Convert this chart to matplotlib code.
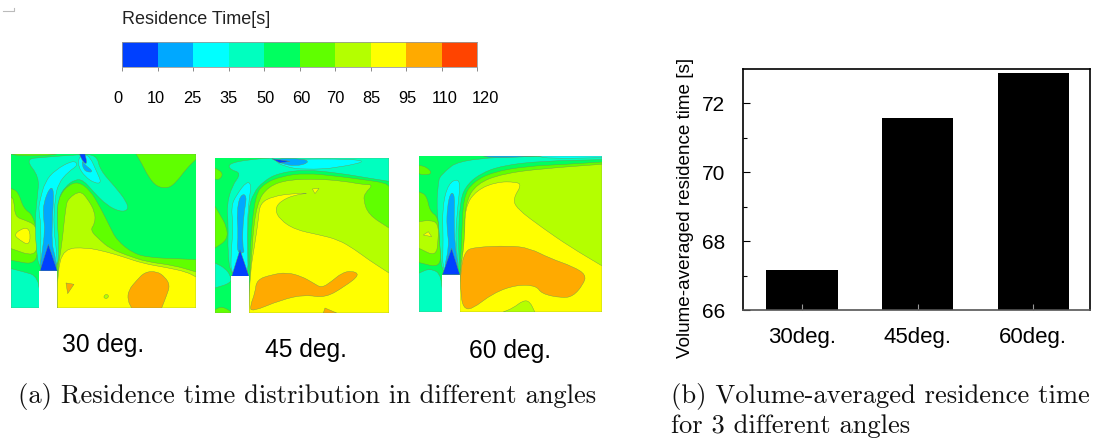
import matplotlib
matplotlib.use("Agg")
import matplotlib.pyplot as plt
from matplotlib.patches import PathPatch, Rectangle
from matplotlib.path import Path

W, H = 1097, 441

# colour bands of the residence time legend
band_edges = [0, 10, 25, 35, 50, 60, 70, 85, 95, 110, 120]
band_colors = ["#0040ff", "#00a8ff", "#00ffff", "#00ffbf", "#00ff60",
               "#60ff00", "#b4ff00", "#ffff00", "#ffaa00", "#ff4400"]
label_shift = [-0.11, -0.05, -0.03, 0.0, 0.03, 0.06, 0.0, 0.02, 0.05, 0.1, 0.25]

# bar chart values
angles = ["30deg.", "45deg.", "60deg."]
avg_time = [67.15, 71.57, 72.87]

# contour regions, painted in order, as (band index, outline) in section coordinates
section_30 = [
    (5, [(408, 42), (588, 42), (588, 58), (560, 85), (530, 125), (505, 145), (470, 140), (445, 110), (425, 70)]),
    (5, [(33, 42), (170, 42), (150, 46), (60, 48)]),
    (5, [(170, 200), (180, 165), (205, 135), (235, 125), (270, 150), (300, 200), (330, 260), (350, 300), (400, 340), (450, 352), (520, 355), (588, 358), (588, 503), (172, 503)]),
    (6, [(197, 200), (205, 175), (240, 152), (262, 175), (285, 215), (285, 250), (270, 270), (300, 300), (330, 325), (380, 345), (440, 365), (520, 375), (588, 395), (588, 503), (172, 503), (172, 390), (185, 320)]),
    (7, [(190, 325), (260, 322), (320, 335), (370, 350), (430, 370), (500, 382), (560, 395), (588, 410), (588, 503), (172, 503), (172, 400)]),
    (8, [(385, 450), (410, 420), (435, 395), (470, 393), (495, 410), (510, 435), (500, 465), (485, 503), (395, 503), (383, 480)]),
    (8, [(198, 428), (222, 432), (203, 460)]),
    (6, [(311, 468), (318, 461), (327, 466), (322, 475), (313, 474)]),
    (3, [(33, 385), (60, 392), (118, 408), (118, 503), (33, 503)]),
    (5, [(33, 145), (55, 155), (70, 205), (100, 225), (112, 290), (112, 375), (33, 360)]),
    (6, [(33, 170), (42, 180), (45, 230), (75, 240), (108, 255), (115, 300), (105, 350), (33, 325)]),
    (7, [(42, 285), (60, 268), (85, 262), (92, 290), (85, 315), (60, 300)]),
    (3, [(75, 57), (130, 52), (235, 44), (290, 44), (300, 90), (345, 140), (380, 185), (385, 210), (360, 215), (320, 195), (280, 155), (250, 120), (225, 118), (195, 140), (175, 175), (170, 230), (178, 320), (172, 392), (118, 392), (108, 320), (105, 240), (112, 170), (118, 110)]),
    (2, [(120, 180), (135, 125), (165, 90), (220, 60), (235, 75), (205, 95), (175, 130), (165, 175), (160, 260), (170, 330), (172, 392), (118, 392), (125, 260), (115, 210)]),
    (2, [(235, 55), (250, 42), (270, 50), (290, 95), (305, 128), (285, 130), (255, 110), (235, 80)]),
    (1, [(130, 190), (150, 140), (162, 150), (158, 220), (155, 310), (165, 345), (172, 392), (118, 392), (125, 345), (135, 270), (130, 230)]),
    (1, [(245, 60), (255, 75), (278, 92), (270, 98), (250, 90)]),
    (0, [(120, 392), (145, 312), (172, 392)]),
    (0, [(238, 42), (255, 42), (262, 72), (250, 68)]),
]
section_45 = [
    (3, [(70, 72), (130, 60), (200, 55), (552, 55), (552, 125), (490, 115), (400, 100), (300, 90), (220, 100), (175, 125), (145, 160), (130, 210), (128, 320), (132, 410), (78, 410), (68, 340), (70, 250), (65, 200), (80, 140), (110, 100), (75, 90)]),
    (3, [(30, 370), (60, 385), (78, 410), (78, 430), (30, 445)]),
    (5, [(150, 165), (180, 130), (230, 110), (300, 100), (400, 110), (490, 122), (540, 130), (552, 140), (552, 520), (132, 520), (135, 410), (135, 320)]),
    (6, [(155, 190), (190, 140), (250, 120), (340, 118), (420, 125), (475, 135), (505, 135), (480, 160), (475, 180), (490, 225), (552, 265), (552, 520), (132, 520), (140, 320)]),
    (7, [(165, 190), (205, 170), (260, 162), (320, 160), (270, 165), (225, 185), (210, 210), (225, 240), (270, 270), (340, 285), (400, 300), (450, 330), (490, 360), (552, 400), (552, 520), (132, 520), (135, 400), (150, 310), (160, 240)]),
    (7, [(322, 148), (342, 146), (330, 162)]),
    (8, [(155, 420), (200, 405), (245, 398), (290, 410), (325, 430), (350, 445), (380, 425), (410, 400), (440, 393), (465, 405), (420, 440), (360, 475), (300, 465), (230, 480), (140, 517), (135, 500), (150, 460)]),
    (8, [(355, 520), (360, 505), (395, 520)]),
    (5, [(30, 85), (55, 100), (45, 120), (30, 118)]),
    (5, [(30, 200), (45, 225), (65, 260), (68, 300), (30, 325)]),
    (5, [(30, 510), (50, 500), (78, 515), (78, 520), (30, 520)]),
    (2, [(78, 200), (95, 165), (125, 125), (140, 135), (130, 190), (125, 320), (132, 410), (78, 410), (78, 340), (85, 260)]),
    (1, [(95, 220), (105, 165), (127, 165), (115, 230), (112, 320), (120, 340), (95, 340), (100, 280)]),
    (0, [(80, 410), (105, 330), (132, 410)]),
    (2, [(200, 58), (510, 58), (400, 85), (300, 90), (240, 82)]),
    (1, [(200, 57), (300, 57), (312, 70), (270, 80), (230, 72)]),
    (0, [(200, 57), (255, 65), (225, 70)]),
]
section_60 = [
    (3, [(90, 105), (160, 50), (577, 47), (577, 58), (400, 62), (280, 75), (210, 100), (165, 140), (150, 190), (145, 300), (150, 405), (97, 405), (90, 330), (85, 250), (80, 190), (85, 130)]),
    (3, [(27, 400), (60, 385), (97, 405), (97, 517), (27, 517)]),
    (5, [(160, 170), (190, 125), (250, 95), (350, 78), (470, 72), (577, 65), (577, 517), (150, 517), (150, 405), (155, 300)]),
    (6, [(165, 190), (200, 130), (280, 100), (400, 85), (577, 72), (577, 517), (150, 517), (150, 400), (165, 300)]),
    (7, [(165, 200), (200, 150), (260, 125), (320, 125), (335, 135), (310, 175), (320, 205), (400, 265), (480, 320), (577, 378), (577, 517), (150, 517), (150, 400), (165, 300)]),
    (8, [(165, 335), (190, 322), (300, 317), (360, 325), (420, 355), (490, 380), (530, 405), (520, 435), (490, 470), (455, 475), (395, 462), (380, 438), (320, 435), (250, 460), (185, 510), (160, 505), (152, 460), (152, 390)]),
    (6, [(280, 517), (310, 505), (340, 482), (360, 485), (375, 517)]),
    (5, [(27, 75), (50, 80), (68, 100), (40, 105), (27, 100)]),
    (5, [(27, 155), (50, 165), (60, 215), (85, 230), (88, 300), (95, 385), (27, 368)]),
    (6, [(27, 245), (60, 240), (85, 250), (85, 300), (78, 350), (27, 325)]),
    (7, [(40, 285), (55, 275), (65, 290)]),
    (2, [(97, 200), (115, 130), (145, 115), (150, 140), (145, 185), (135, 300), (150, 405), (97, 405), (100, 300)]),
    (1, [(112, 200), (122, 155), (135, 165), (132, 230), (135, 320), (148, 395), (100, 395), (118, 320), (110, 260)]),
    (0, [(97, 405), (125, 325), (150, 405)]),
    (1, [(220, 47), (380, 47), (300, 52), (240, 52)]),
    (2, [(380, 47), (577, 47), (577, 52), (420, 55)]),
]


def px_axes(left, top, right, bottom):
    return fig.add_axes([left / W, 1 - bottom / H, (right - left) / W, (bottom - top) / H])


# rounds the outline with quadratic curves, points on the section frame stay sharp
def smooth_path(outline, frame):
    n = len(outline)
    if n <= 3:
        return Path(outline + [outline[0]], closed=True)

    def sharp(p):
        return p[0] in (frame[0], frame[2]) or p[1] in (frame[1], frame[3])

    def mid(a, b):
        return ((a[0] + b[0]) / 2, (a[1] + b[1]) / 2)

    start = mid(outline[-1], outline[0])
    verts, codes = [start], [Path.MOVETO]
    for i in range(n):
        p, nxt = outline[i], outline[(i + 1) % n]
        if sharp(p):
            verts += [p, mid(p, nxt)]
            codes += [Path.LINETO, Path.LINETO]
        else:
            verts += [p, mid(p, nxt)]
            codes += [Path.CURVE3, Path.CURVE3]
    verts.append(start)
    codes.append(Path.CLOSEPOLY)
    return Path(verts, codes)


def draw_section(box, frame, inlet, regions):
    ax = px_axes(*box)
    ax.set_xlim(frame[0], frame[2])
    ax.set_ylim(frame[3], frame[1])
    ax.axis("off")
    ax.add_patch(Rectangle((frame[0], frame[1]), frame[2] - frame[0], frame[3] - frame[1],
                           fc=band_colors[4], ec="none"))
    for band, outline in regions:
        ax.add_patch(PathPatch(smooth_path(outline, frame), fc=band_colors[band],
                               ec="#6f9a50", lw=0.3))
    ax.add_patch(Rectangle((inlet[0], inlet[1]), inlet[2] - inlet[0], frame[3] - inlet[1] + 2,
                           fc="white", ec="none", zorder=5))


plt.rcParams["font.family"] = ["Liberation Sans", "DejaVu Sans"]
fig = plt.figure(figsize=(W / 100, H / 100), dpi=100)

# legend bar
cax = px_axes(122, 42, 477, 67)
cax.set_xlim(0, len(band_colors))
cax.set_ylim(0, 1)
cax.bar(range(len(band_colors)), [1] * len(band_colors), width=1, align="edge",
        color=band_colors, linewidth=0)
for s in cax.spines.values():
    s.set_color("#999999")
    s.set_linewidth(0.6)
cax.set_yticks([])
cax.set_xticks(range(len(band_edges)))
cax.set_xticklabels([])
cax.tick_params(axis="x", length=3, width=0.6, color="#777777")
for i, edge in enumerate(band_edges):
    cax.text(i + label_shift[i], -1.26, str(edge), ha="center", va="center",
             fontsize=11.8, color="black")
fig.text(122 / W, 1 - 20 / H, "Residence Time[s]", ha="left", va="center",
         fontsize=13, color="#222222")

# contour sections
draw_section((11, 154, 196, 308), (33, 42, 588, 503), (118, 392, 172), section_30)
draw_section((215, 158, 389, 313), (30, 55, 552, 520), (78, 410, 132), section_45)
draw_section((419, 156, 602, 312), (27, 47, 577, 517), (97, 405, 150), section_60)

fig.text(103 / W, 1 - 345 / H, "30 deg.", ha="center", va="center", fontsize=17.7)
fig.text(306 / W, 1 - 350 / H, "45 deg.", ha="center", va="center", fontsize=17.7)
fig.text(510 / W, 1 - 351 / H, "60 deg.", ha="center", va="center", fontsize=17.7)

# bar chart
ax = px_axes(743, 69, 1090, 310)
ax.bar(range(3), avg_time, width=0.615, color="black")
ax.set_xlim(-0.51, 2.49)
ax.set_ylim(66, 73)
ax.set_xticks(range(3))
ax.set_xticklabels(angles)
ax.set_yticks([66, 68, 70, 72])
ax.set_yticks([67, 69, 71], minor=True)
ax.tick_params(axis="y", which="major", direction="in", length=5, width=0.8, labelsize=15, pad=13)
ax.tick_params(axis="y", which="minor", direction="in", length=3, width=0.8)
ax.tick_params(axis="x", direction="in", length=4, width=0.8, color="#999999", labelsize=16, pad=12)
ax.spines["bottom"].set_color("#555555")
for s in ax.spines.values():
    s.set_linewidth(1.2)
fig.text(685 / W, 1 - 208 / H, "Volume-averaged residence time [s]", rotation=90,
         ha="center", va="center", fontsize=13.6)

# captions
cap = dict(family="cmr10", fontsize=19.15, ha="left", va="baseline", color="#111111")
fig.text(18 / W, 1 - 403 / H, "(a) Residence time distribution in different angles", **cap)
fig.text(671 / W, 1 - 403 / H, "(b) Volume-averaged residence time", **cap)
fig.text(671 / W, 1 - 433 / H, "for 3 different angles", **cap)

# small stray mark in the corner
fig.add_artist(plt.Line2D([3 / W, 13.5 / W, 13.5 / W], [1 - 11 / H, 1 - 11 / H, 1 - 8 / H],
                          color="#bbbbbb", lw=0.8))

fig.savefig("out.png", dpi=100)
